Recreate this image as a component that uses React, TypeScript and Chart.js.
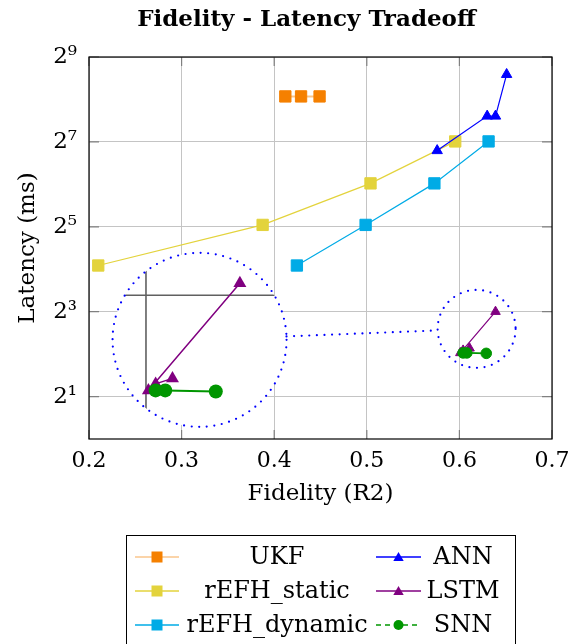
import React, { useEffect, useRef } from 'react';
import { Chart, registerables } from 'chart.js';

Chart.register(...registerables);

// ---------------- data ----------------
const seriesNames = ['UKF', 'rEFH_static', 'rEFH_dynamic', 'ANN', 'LSTM', 'SNN'];
const ukfX = [0.412, 0.429, 0.449];
const ukfY = [269, 269, 269];
const staticX = [0.21, 0.3875, 0.504, 0.5955];
const staticY = [17, 33, 65, 129];
const dynamicX = [0.4245, 0.4987, 0.573, 0.6315];
const dynamicY = [17, 33, 65, 129];
const annX = [0.576, 0.63, 0.639, 0.651];
const annY = [111, 195, 195, 385];
const lstmX = [0.611, 0.604, 0.601, 0.639];
const lstmY = [4.4, 4.25, 4.08, 8.0];
const snnX = [0.604, 0.608, 0.629];
const snnY = [4.08, 4.08, 4.05];
const xTicks = [0.2, 0.3, 0.4, 0.5, 0.6, 0.7];
const yTickExponents = [1, 3, 5, 7, 9];

// ---------------- styles ----------------
const FONT = '"DejaVu Serif", serif';
const C_ORANGE = 'rgb(245,128,0)';
const C_YELLOW = 'rgb(227,211,60)';
const C_CYAN = 'rgb(0,171,230)';
const C_BLUE = '#0000ff';
const C_PURPLE = '#800080';
const C_GREEN = '#009600';

const SUP: Record<string, string> = { '0': '⁰', '1': '¹', '2': '²', '3': '³', '4': '⁴', '5': '⁵', '6': '⁶', '7': '⁷', '8': '⁸', '9': '⁹' };
const supStr = (n: number) => String(n).split('').map((c) => SUP[c]).join('');

const pts = (xs: number[], ys: number[]) => xs.map((x, i) => ({ x, y: ys[i] }));

// spy / magnifier configuration (data-space centres)
const SPY = {
  srcX: 0.6186, srcY: 6.04, srcR: 39,
  dstX: 0.3194, dstY: 5.05, dstR: 87,
  mag: 2.6, lensDX: -8.8, lensDY: -11.9, gridShift: 12,
};

function triangle(ctx: CanvasRenderingContext2D, x: number, y: number, r: number) {
  const c = Math.cos(Math.PI / 6);
  ctx.beginPath();
  ctx.moveTo(x, y - r);
  ctx.lineTo(x + r * c, y + r / 2);
  ctx.lineTo(x - r * c, y + r / 2);
  ctx.closePath();
  ctx.fill();
}
function square(ctx: CanvasRenderingContext2D, x: number, y: number, s: number) {
  ctx.fillRect(x - s / 2, y - s / 2, s, s);
}
function dot(ctx: CanvasRenderingContext2D, x: number, y: number, r: number) {
  ctx.beginPath();
  ctx.arc(x, y, r, 0, Math.PI * 2);
  ctx.fill();
}

const spyPlugin = {
  id: 'spy',
  afterDatasetsDraw(chart: any) {
    const { ctx, scales } = chart;
    const xs = scales.x, ys = scales.y;
    const sx = xs.getPixelForValue(SPY.srcX), sy = ys.getPixelForValue(SPY.srcY);
    const dx = xs.getPixelForValue(SPY.dstX), dy = ys.getPixelForValue(SPY.dstY);
    const tx = dx + SPY.lensDX, ty = dy + SPY.lensDY;
    const tf = (px: number, py: number) => ({ x: tx + SPY.mag * (px - sx), y: ty + SPY.mag * (py - sy) });

    ctx.save();
    ctx.beginPath();
    ctx.arc(dx, dy, SPY.dstR, 0, Math.PI * 2);
    ctx.fillStyle = '#ffffff';
    ctx.fill();
    ctx.clip();
    ctx.strokeStyle = '#606060';
    ctx.lineWidth = 1.6;
    const gx = tf(xs.getPixelForValue(0.6), 0).x;
    const gy = tf(0, ys.getPixelForValue(8)).y + SPY.gridShift;
    ctx.beginPath();
    ctx.moveTo(gx, dy - SPY.dstR); ctx.lineTo(gx, dy + SPY.dstR);
    ctx.moveTo(dx - SPY.dstR, gy); ctx.lineTo(dx + SPY.dstR, gy);
    ctx.stroke();
    const lp = lstmX.map((v, i) => tf(xs.getPixelForValue(v), ys.getPixelForValue(lstmY[i])));
    ctx.strokeStyle = C_PURPLE; ctx.fillStyle = C_PURPLE; ctx.lineWidth = 1.5;
    ctx.beginPath();
    lp.forEach((p, i) => (i ? ctx.lineTo(p.x, p.y) : ctx.moveTo(p.x, p.y)));
    ctx.stroke();
    lp.forEach((p) => triangle(ctx, p.x, p.y, 7.5));
    const sp = snnX.map((v, i) => tf(xs.getPixelForValue(v), ys.getPixelForValue(snnY[i])));
    ctx.strokeStyle = C_GREEN; ctx.fillStyle = C_GREEN; ctx.lineWidth = 2;
    ctx.beginPath();
    sp.forEach((p, i) => (i ? ctx.lineTo(p.x, p.y) : ctx.moveTo(p.x, p.y)));
    ctx.stroke();
    sp.forEach((p) => dot(ctx, p.x, p.y, 7));
    ctx.restore();

    ctx.save();
    ctx.strokeStyle = C_BLUE;
    ctx.lineWidth = 2.2;
    ctx.lineCap = 'round';
    ctx.setLineDash([0, 7.6]);
    ctx.beginPath(); ctx.arc(dx, dy, SPY.dstR, 0, Math.PI * 2); ctx.stroke();
    ctx.beginPath(); ctx.arc(sx, sy, SPY.srcR, 0, Math.PI * 2); ctx.stroke();
    const ang = Math.atan2(sy - dy, sx - dx);
    ctx.beginPath();
    ctx.moveTo(dx + Math.cos(ang) * SPY.dstR, dy + Math.sin(ang) * SPY.dstR);
    ctx.lineTo(sx - Math.cos(ang) * SPY.srcR, sy - Math.sin(ang) * SPY.srcR);
    ctx.stroke();
    ctx.restore();
  },
};

const frameTitleLegendPlugin = {
  id: 'frameTitleLegend',
  afterDraw(chart: any) {
    const { ctx, chartArea: a, scales } = chart;
    ctx.save();
    ctx.strokeStyle = '#808080';
    ctx.lineWidth = 1.2;
    ctx.beginPath();
    xTicks.forEach((v) => {
      const px = scales.x.getPixelForValue(v);
      ctx.moveTo(px, a.bottom); ctx.lineTo(px, a.bottom - 9);
      ctx.moveTo(px, a.top); ctx.lineTo(px, a.top + 9);
    });
    yTickExponents.forEach((e) => {
      const py = scales.y.getPixelForValue(2 ** e);
      ctx.moveTo(a.left, py); ctx.lineTo(a.left + 10, py);
      ctx.moveTo(a.right, py); ctx.lineTo(a.right - 10, py);
    });
    ctx.stroke();
    ctx.strokeStyle = '#000';
    ctx.lineWidth = 1.2;
    ctx.strokeRect(a.left, a.top, a.right - a.left, a.bottom - a.top);

    ctx.fillStyle = '#000';
    ctx.font = `bold 23px ${FONT}`;
    ctx.textAlign = 'center';
    ctx.textBaseline = 'alphabetic';
    ctx.fillText('Fidelity - Latency Tradeoff', (a.left + a.right) / 2 - 14, 26);

    const boxL = 126, boxT = 535, boxR = 515, boxB = 680;
    ctx.lineWidth = 1;
    ctx.strokeStyle = '#000';
    ctx.strokeRect(boxL + 0.5, boxT + 0.5, boxR - boxL, boxB - boxT);
    const ds = chart.data.datasets;
    const cols = [
      { l0: 135, l1: 179, tx: 277 },
      { l0: 376, l1: 421, tx: 463 },
    ];
    const rows = [557, 591, 625];
    ctx.font = `24px ${FONT}`;
    ctx.textBaseline = 'middle';
    ds.forEach((d: any, i: number) => {
      const col = cols[i < 3 ? 0 : 1];
      const y = rows[i % 3];
      ctx.save();
      ctx.strokeStyle = d.legendLine;
      ctx.lineWidth = 1.3;
      if (d.legendDash) ctx.setLineDash([5, 4]);
      ctx.beginPath(); ctx.moveTo(col.l0, y); ctx.lineTo(col.l1, y); ctx.stroke();
      ctx.restore();
      ctx.fillStyle = d.pointBackgroundColor;
      const mx = (col.l0 + col.l1) / 2;
      if (d.pointStyle === 'rect') square(ctx, mx, y, 11);
      else if (d.pointStyle === 'triangle') triangle(ctx, mx, y + 1, 6);
      else dot(ctx, mx, y, 5);
      ctx.fillStyle = '#000';
      ctx.textAlign = 'center';
      ctx.fillText(d.label, col.tx, y + 1);
    });
    ctx.restore();
  },
};

export default function App() {
  const ref = useRef<HTMLCanvasElement | null>(null);
  useEffect(() => {
    if (!ref.current) return;
    Chart.defaults.font.family = FONT;
    const mk = (i: number, xs: number[], ys: number[], color: string, lineColor: string, style: string, radius: number, lw: number, extra: any = {}) => ({
      label: seriesNames[i],
      data: pts(xs, ys),
      showLine: true,
      borderColor: lineColor,
      borderWidth: lw,
      backgroundColor: color,
      pointBackgroundColor: color,
      pointBorderColor: color,
      pointBorderWidth: 1,
      pointStyle: style,
      pointRadius: radius,
      pointHoverRadius: radius,
      order: 6 - i,
      legendLine: lineColor,
      clip: false,
      ...extra,
    });
    const chart = new Chart(ref.current, {
      type: 'scatter',
      data: {
        datasets: [
          mk(0, ukfX, ukfY, C_ORANGE, 'rgba(245,128,0,0.45)', 'rect', 8, 2),
          mk(1, staticX, staticY, C_YELLOW, C_YELLOW, 'rect', 8, 1.2),
          mk(2, dynamicX, dynamicY, C_CYAN, C_CYAN, 'rect', 8, 1.2),
          mk(3, annX, annY, C_BLUE, C_BLUE, 'triangle', 6, 1.2),
          mk(4, lstmX, lstmY, C_PURPLE, C_PURPLE, 'triangle', 5.5, 1.2),
          mk(5, snnX, snnY, C_GREEN, C_GREEN, 'circle', 5.3, 1.6, { legendDash: true }),
        ] as any,
      },
      options: {
        animation: false,
        responsive: false,
        devicePixelRatio: 1,
        layout: { padding: { top: 57, right: 20, bottom: 130, left: 0 } },
        plugins: {
          legend: { display: false },
          title: { display: false },
          tooltip: { enabled: false },
        },
        events: [],
        scales: {
          x: {
            type: 'linear',
            min: 0.2,
            max: 0.7,
            afterBuildTicks: (s: any) => { s.ticks = xTicks.map((v) => ({ value: v })); },
            afterFit: (s: any) => { s.height = 75; s.paddingLeft = 0; s.paddingRight = 0; },
            ticks: {
              callback: (v: any) => Number(v).toFixed(1),
              padding: 9,
              font: { size: 22, family: FONT },
              color: '#000',
              maxRotation: 0,
              autoSkip: false,
            },
            grid: { color: '#c4c4c4', lineWidth: 1, drawTicks: false },
            border: { display: false },
            title: { display: true, text: 'Fidelity (R2)', font: { size: 23, family: FONT }, color: '#000', padding: { top: 0, bottom: 6 } },
          },
          y: {
            type: 'logarithmic',
            min: 1,
            max: 512,
            afterBuildTicks: (s: any) => { s.ticks = yTickExponents.map((e) => ({ value: 2 ** e })); },
            afterFit: (s: any) => { s.width = 89; s.paddingTop = 0; s.paddingBottom = 0; },
            ticks: {
              callback: (v: any) => '2' + supStr(Math.round(Math.log2(Number(v)))),
              padding: 12,
              font: { size: 23, family: FONT },
              color: '#000',
              autoSkip: false,
            },
            grid: { color: '#c4c4c4', lineWidth: 1, drawTicks: false },
            border: { display: false },
            title: { display: true, text: 'Latency (ms)', font: { size: 23, family: FONT }, color: '#000', padding: { top: 14, bottom: 0 } },
          },
        },
      } as any,
      plugins: [spyPlugin, frameTitleLegendPlugin],
    });
    return () => chart.destroy();
  }, []);
  return (
    <div style={{ position: 'fixed', left: 0, top: 0, width: 572, height: 644, background: '#fff' }}>
      <canvas ref={ref} width={572} height={644} style={{ display: 'block', width: 572, height: 644 }} />
    </div>
  );
}
